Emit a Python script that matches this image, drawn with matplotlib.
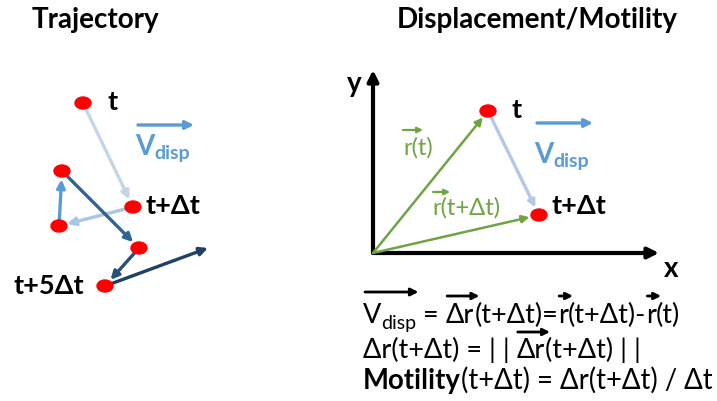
import matplotlib
matplotlib.use("Agg")
import matplotlib.pyplot as plt
from matplotlib.patches import Ellipse

FONT = ["Lato", "DejaVu Sans"]
D = "\u0394"

# trajectory points (pixel positions)
traj_x = [83, 133, 59, 62, 139, 105, 208]
traj_y = [103, 207, 226, 171, 248, 286, 248]
traj_colors = ["#c5d5e8", "#a9c6e4", "#5b9bd5", "#2f6496", "#264f7a", "#1f4166"]
traj_labels = {0: "t", 1: "t+" + D + "t", 5: "t+5" + D + "t"}

# displacement panel
origin = (373, 253)
pos_t = (488, 111)
pos_t1 = (539, 215)
green = "#6fa443"
light_blue = "#b4c7e7"
vblue = "#5b9bd5"

fig = plt.figure(figsize=(7.17, 4.01), dpi=100)
ax = fig.add_axes([0, 0, 1, 1])
ax.set_xlim(0, 717)
ax.set_ylim(401, 0)
ax.axis("off")
fig.canvas.draw()
rend = fig.canvas.get_renderer()


def arrow(p0, p1, color, lw=2.0, ms=12, sa=0, sb=0):
    ax.annotate("", xy=p1, xytext=p0,
                arrowprops=dict(arrowstyle="-|>", color=color, lw=lw,
                                mutation_scale=ms, shrinkA=sa, shrinkB=sb))


def dot(x, y):
    ax.add_patch(Ellipse((x, y), 16, 12, color="#ff0000", zorder=5))


def runs(x, y, parts, size, color="black"):
    # parts: (text, scale, dy, bold, overarrow)
    spans = []
    for s, sc, dy, bold, over in parts:
        t = ax.text(x, y + dy, s, fontsize=size * sc, family=FONT,
                    fontweight="bold" if bold else "normal",
                    va="baseline", ha="left", color=color)
        w = t.get_window_extent(rend).width
        spans.append((x, x + w, over))
        x += w
    return spans


# titles
ax.text(32, 28, "Trajectory", fontsize=20, family=FONT, fontweight="bold",
        va="baseline", ha="left")
ax.text(397, 28, "Displacement/Motility", fontsize=20, family=FONT,
        fontweight="bold", va="baseline", ha="left")

# ---- trajectory panel
for i in range(len(traj_x) - 1):
    arrow((traj_x[i], traj_y[i]), (traj_x[i + 1], traj_y[i + 1]),
          traj_colors[i], lw=2.4, ms=12, sa=4, sb=6 if i < 5 else 0)
for i in range(len(traj_x) - 1):
    dot(traj_x[i], traj_y[i])
lab = dict(fontsize=19.5, family=FONT, fontweight="bold", va="baseline")
ax.text(107, 110, traj_labels[0], **lab)
ax.text(145, 214, traj_labels[1], **lab)
ax.text(84, 294, traj_labels[5], ha="right", **lab)
arrow((138, 125), (194, 125), vblue, lw=2.4, ms=12)
runs(135, 155, [("V", 1, 0, True, False), ("disp", 0.7, 4, True, False)], 20, vblue)

# ---- displacement panel
arrow(origin, (373, 70), "black", lw=3, ms=16)
arrow(origin, (659, 253), "black", lw=3, ms=16)
ax.text(347, 92, "y", fontsize=20, family=FONT, fontweight="bold", va="baseline")
ax.text(664, 277, "x", fontsize=20, family=FONT, fontweight="bold", va="baseline")
arrow(origin, pos_t, green, lw=1.8, ms=11, sb=6)
arrow(origin, pos_t1, green, lw=1.8, ms=11, sb=7)
arrow(pos_t, pos_t1, light_blue, lw=2.4, ms=10, sa=4, sb=6)
dot(*pos_t)
dot(*pos_t1)
ax.text(511, 118, "t", **lab)
ax.text(552, 214, "t+" + D + "t", **lab)
arrow((537, 123), (593, 123), vblue, lw=2.4, ms=12)
runs(534, 163, [("V", 1, 0, True, False), ("disp", 0.7, 4, True, False)], 20, vblue)
ax.text(403, 155, "r(t)", fontsize=17, family=FONT, color=green, va="baseline")
arrow((403, 130), (423, 130), green, lw=1.6, ms=8)
ax.text(432, 215, "r(t+" + D + "t)", fontsize=17, family=FONT, color=green, va="baseline")
arrow((433, 192), (450, 192), green, lw=1.6, ms=8)

# ---- formulas
fs = 19.5
l1 = runs(363, 323, [("V", 1, 0, False, True), ("disp", 0.72, 6, False, True),
                     (" = ", 1, 0, False, False), (D + "r", 1, 0, False, True),
                     ("(t+" + D + "t)=", 1, 0, False, False), ("r", 1, 0, False, True),
                     ("(t+" + D + "t)-", 1, 0, False, False), ("r", 1, 0, False, True),
                     ("(t)", 1, 0, False, False)], fs)
l2 = runs(363, 358, [(D + "r(t+" + D + "t) = | | ", 1, 0, False, False),
                     (D + "r", 1, 0, False, True),
                     ("(t+" + D + "t) | |", 1, 0, False, False)], fs)
l3 = runs(363, 389, [("Motility", 1, 0, True, False),
                     ("(t+" + D + "t) = " + D + "r(t+" + D + "t) / " + D + "t", 1, 0, False, False)], 19.8)

# arrows over vectors: V_disp gets one long arrow
v0, v1 = l1[0][0], l1[1][1]
arrow((v0 + 2, 292), (v1 + 2, 292), "black", lw=2, ms=11)
for a, b, over in l1[3:]:
    if over:
        arrow((a + 1, 296), (b + 5, 296), "black", lw=2, ms=10)
for a, b, over in l2:
    if over:
        arrow((a + 1, 332), (b + 5, 332), "black", lw=2, ms=10)

fig.savefig("out.png", dpi=100, facecolor="white")
